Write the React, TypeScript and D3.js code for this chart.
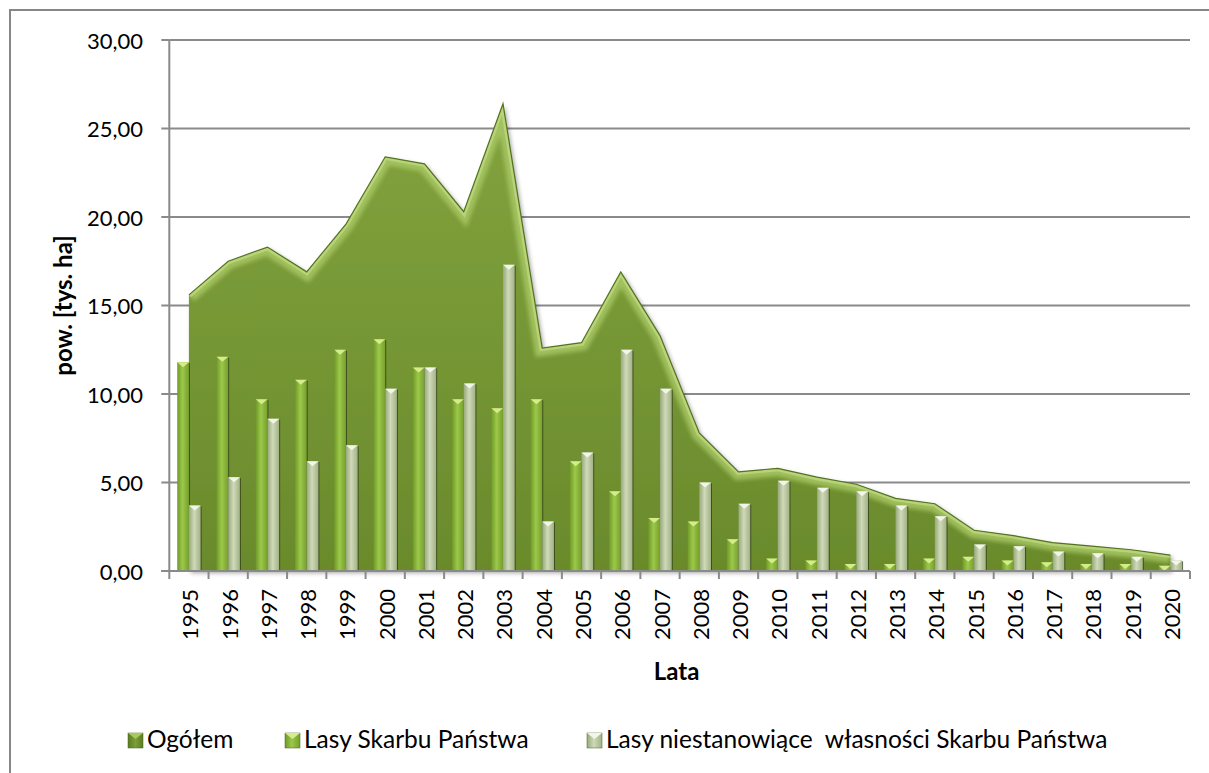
import React from "react";
import * as d3 from "d3";

const years = ["1995","1996","1997","1998","1999","2000","2001","2002","2003","2004","2005","2006","2007","2008","2009","2010","2011","2012","2013","2014","2015","2016","2017","2018","2019","2020"];
const ogolem = [15.6,17.5,18.3,16.9,19.6,23.4,23.0,20.3,26.4,12.6,12.9,16.9,13.3,7.8,5.6,5.8,5.3,4.9,4.1,3.8,2.3,2.0,1.6,1.4,1.2,0.9];
const lasySP = [11.8,12.1,9.7,10.8,12.5,13.1,11.5,9.7,9.2,9.7,6.2,4.5,3.0,2.8,1.8,0.7,0.6,0.4,0.4,0.7,0.8,0.6,0.5,0.4,0.4,0.3];
const lasyNie = [3.7,5.3,8.6,6.2,7.1,10.3,11.5,10.6,17.3,2.8,6.7,12.5,10.3,5.0,3.8,5.1,4.7,4.5,3.7,3.1,1.5,1.4,1.1,1.0,0.8,0.6];
const yTicks = [0,5,10,15,20,25,30];
const seriesNames = ["Ogółem","Lasy Skarbu Państwa","Lasy niestanowiące  własności Skarbu Państwa"];

const FONT = "Lato, 'Open Sans', 'DejaVu Sans', sans-serif";

export default function App() {
  const left = 169.3, right = 1190, top = 40, bottom = 571;
  const x = d3.scaleBand<string>().domain(years).range([left, right]).padding(0);
  const y = d3.scaleLinear().domain([0, 30]).range([bottom, top]);
  const bw = x.bandwidth();
  const barW = bw * 0.298;
  const cx = (i: number) => (x(years[i]) as number) + bw / 2;

  const areaGen = d3.area<number>().x((_, i) => cx(i)).y0(y(0)).y1((d) => y(d));
  const lineGen = d3.line<number>().x((_, i) => cx(i)).y((d) => y(d));
  const areaPath = areaGen(ogolem) as string;
  const topLine = lineGen(ogolem) as string;
  const leftEdge = `M${cx(0)},${y(0)}L${cx(0)},${y(ogolem[0])}`;

  const bar = (i: number, v: number, kind: "g" | "l") => {
    const c = cx(i);
    const x0 = kind === "g" ? c - barW : c;
    const yt = y(v);
    const h = y(0) - yt;
    const tri = `M${x0},${yt}L${x0 + barW},${yt}L${x0 + barW / 2},${yt + Math.min(5, h)}Z`;
    return (
      <g key={kind + i}>
        <rect x={x0 + 1} y={yt + 1} width={barW} height={h - 1} fill="#2f3a1a" opacity={0.75} />
        <rect x={x0} y={yt} width={barW} height={h} fill={kind === "g" ? "url(#gBar)" : "url(#lBar)"} />
        <path d={tri} fill={kind === "g" ? "#d4ec8a" : "#f2f6e8"} />
      </g>
    );
  };

  const legendItems = [
    { mx: 128, tx: 147, fill: "url(#gLegA)", tri: "#a8c860", name: seriesNames[0] },
    { mx: 285, tx: 304, fill: "url(#gBar)", tri: "#d4ec8a", name: seriesNames[1] },
    { mx: 587, tx: 606, fill: "url(#lBar)", tri: "#f2f6e8", name: seriesNames[2] },
  ];
  const legY = 733;

  return (
    <svg width={1209} height={773} style={{ position: "absolute", left: 0, top: 0, background: "#fff" }} fontFamily={FONT}>
      <defs>
        <linearGradient id="areaFill" x1="0" y1="0" x2="0" y2="1">
          <stop offset="0" stopColor="#82a33e" />
          <stop offset="1" stopColor="#6a8a2c" />
        </linearGradient>
        <linearGradient id="gBar" x1="0" y1="0" x2="1" y2="0">
          <stop offset="0" stopColor="#6f9a28" />
          <stop offset="0.45" stopColor="#9cc84a" />
          <stop offset="1" stopColor="#76a02c" />
        </linearGradient>
        <linearGradient id="lBar" x1="0" y1="0" x2="1" y2="0">
          <stop offset="0" stopColor="#98a87c" />
          <stop offset="0.45" stopColor="#cfdab8" />
          <stop offset="1" stopColor="#a2b286" />
        </linearGradient>
        <linearGradient id="gLegA" x1="0" y1="0" x2="1" y2="0">
          <stop offset="0" stopColor="#5c7c22" />
          <stop offset="0.5" stopColor="#7c9e36" />
          <stop offset="1" stopColor="#5c7c22" />
        </linearGradient>
        <clipPath id="areaClip">
          <path d={areaPath} />
        </clipPath>
        <filter id="blur2" x="-5%" y="-5%" width="110%" height="110%">
          <feGaussianBlur stdDeviation="2.2" />
        </filter>
        <filter id="shadow" x="-5%" y="-5%" width="110%" height="110%">
          <feDropShadow dx="2" dy="2" stdDeviation="2" floodColor="#000" floodOpacity="0.35" />
        </filter>
      </defs>

      <rect x={10} y={10} width={1220} height={780} fill="none" stroke="#878787" strokeWidth={2} />

      {yTicks.filter((t) => t > 0).map((t) => (
        <line key={"g" + t} x1={left} x2={right} y1={y(t)} y2={y(t)} stroke="#8a8a8a" strokeWidth={2} />
      ))}

      <path d={areaPath} fill="url(#areaFill)" filter="url(#shadow)" />
      <g clipPath="url(#areaClip)">
        <path d={topLine} fill="none" stroke="#a9c865" strokeWidth={16} opacity={0.85} filter="url(#blur2)" />
        <path d={leftEdge} fill="none" stroke="#a8c460" strokeWidth={8} opacity={0.6} filter="url(#blur2)" />
        <path d={topLine} fill="none" stroke="#c2dc86" strokeWidth={6} opacity={0.7} />
      </g>
      <path d={topLine} fill="none" stroke="#55731f" strokeWidth={1.2} />

      {lasySP.map((v, i) => bar(i, v, "g"))}
      {lasyNie.map((v, i) => bar(i, v, "l"))}

      <line x1={left} x2={left} y1={top} y2={bottom} stroke="#8a8a8a" strokeWidth={2} />
      <line x1={left - 8} x2={right} y1={bottom} y2={bottom} stroke="#8a8a8a" strokeWidth={2} />
      {yTicks.map((t) => (
        <g key={"yt" + t}>
          <line x1={left - 8} x2={left} y1={y(t)} y2={y(t)} stroke="#8a8a8a" strokeWidth={2} />
          <text x={143} y={y(t)} textAnchor="end" dominantBaseline="central" fontSize={22} fill="#000">
            {d3.format(".2f")(t).replace(".", ",")}
          </text>
        </g>
      ))}
      {[...years.map((yr) => x(yr) as number), right].map((p, i) => (
        <line key={"xt" + i} x1={p} x2={p} y1={bottom} y2={bottom + 8} stroke="#8a8a8a" strokeWidth={2} />
      ))}
      {years.map((yr, i) => (
        <text key={"xl" + yr} transform={`translate(${cx(i) + 1},589) rotate(-90)`} textAnchor="end" dominantBaseline="central" fontSize={22} fill="#000">
          {yr}
        </text>
      ))}

      <text transform={`translate(62,${(top + bottom) / 2}) rotate(-90)`} textAnchor="middle" dominantBaseline="central" fontSize={24} fontWeight="bold" fill="#000">
        pow. [tys. ha]
      </text>
      <text x={(left + right) / 2 - 3} y={680} textAnchor="middle" fontSize={24} fontWeight="bold" fill="#000">
        Lata
      </text>

      {legendItems.map((it, k) => (
        <g key={"lg" + k}>
          <rect x={it.mx} y={legY} width={15} height={15} fill={it.fill} stroke="#4a6020" strokeWidth={0.5} />
          <path d={`M${it.mx},${legY}L${it.mx + 15},${legY}L${it.mx + 7.5},${legY + 6}Z`} fill={it.tri} />
          <text x={it.tx} y={legY + 15} fontSize={24.5} fill="#000" style={{ whiteSpace: "pre" }}>{it.name}</text>
        </g>
      ))}
    </svg>
  );
}
